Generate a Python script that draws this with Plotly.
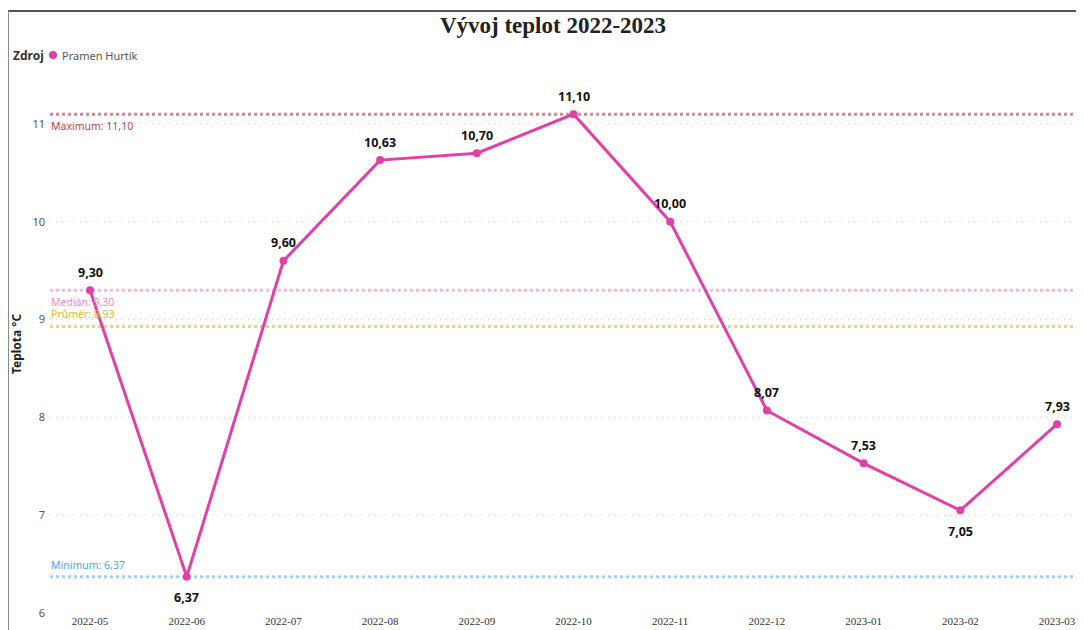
import plotly.graph_objects as go

months = ["2022-05", "2022-06", "2022-07", "2022-08", "2022-09", "2022-10",
          "2022-11", "2022-12", "2023-01", "2023-02", "2023-03"]
temps = [9.30, 6.37, 9.60, 10.63, 10.70, 11.10, 10.00, 8.07, 7.53, 7.05, 7.93]
label_below = [False, True, False, False, False, False, False, False, False, True, False]
series_name = "Pramen Hurtík"
legend_title = "Zdroj"

ref_names = ["Maximum", "Medián", "Průměr", "Minimum"]
ref_values = [11.10, 9.30, 8.93, 6.37]
ref_line_colors = ["#d9868c", "#f6b8dc", "#edd27a", "#9fd0fb"]
ref_text_colors = ["#b8434a", "#f08cc8", "#e0b830", "#4aa3f0"]
ref_text_side = ["below", "below", "above", "above"]

def cz(v):
    return f"{v:.2f}".replace(".", ",")

LINE = "#e040a8"
SANS = "Noto Sans, Open Sans, sans-serif"

# page body has an 8px margin; figure is sized to fill the rest of the window
W, H = 1076, 622
ML, MR, MT, MB = 42, 0, 67, 17
PW, PH = W - ML - MR, H - MT - MB

def px(xp):  # page pixel x -> paper x
    return (xp - 8 - ML) / PW

def py(yp):  # page pixel y -> paper y
    return (H - MB - (yp - 8)) / PH

fig = go.Figure()
fig.add_trace(go.Scatter(
    x=months, y=temps, mode="lines+markers", name=series_name,
    line=dict(color=LINE, width=3), marker=dict(color=LINE, size=8),
    showlegend=False, cliponaxis=False, hoverinfo="x+y"))

# data labels
for m, v, below in zip(months, temps, label_below):
    fig.add_annotation(x=m, y=v, xref="x", yref="y", text=f"<b>{cz(v)}</b>", showarrow=False,
                       yanchor="middle", yshift=-21 if below else 18,
                       font=dict(family=SANS, size=12.5, color="#111111"))

for n, v, lc, tc, side in zip(ref_names, ref_values, ref_line_colors, ref_text_colors, ref_text_side):
    fig.add_shape(type="line", xref="paper", yref="y", x0=0, x1=1, y0=v, y1=v,
                  line=dict(color=lc, width=3, dash="dot"), layer="below")
    fig.add_annotation(xref="paper", yref="y", x=-0.001, y=v, xanchor="left",
                       yanchor="top" if side == "below" else "bottom",
                       yshift=-3 if side == "below" else 3,
                       text=f"{n}: {cz(v)}", showarrow=False,
                       font=dict(family=SANS, size=10.5, color=tc))

# legend drawn as annotations + marker
fig.add_annotation(xref="paper", yref="paper", x=px(11), y=py(55), xanchor="left", yanchor="middle",
                   text=f"<b>{legend_title}</b>", showarrow=False,
                   font=dict(family=SANS, size=12, color="#333333"))
fig.add_shape(type="circle", xref="paper", yref="paper",
              x0=px(49), x1=px(57), y0=py(51), y1=py(59),
              fillcolor=LINE, line=dict(color=LINE, width=0))
fig.add_annotation(xref="paper", yref="paper", x=px(60), y=py(55), xanchor="left", yanchor="middle",
                   text=series_name, showarrow=False,
                   font=dict(family=SANS, size=11, color="#555555"))

# frame lines (top and left border)
fig.add_shape(type="line", xref="paper", yref="paper", x0=px(8), x1=px(1090), y0=py(11), y1=py(11),
              line=dict(color="#555555", width=2))
fig.add_shape(type="line", xref="paper", yref="paper", x0=px(8), x1=px(8), y0=py(11), y1=py(640),
              line=dict(color="#8a8a8a", width=2))

fig.update_layout(
    width=W, height=H,
    margin=dict(l=ML, r=MR, t=MT, b=MB),
    paper_bgcolor="white", plot_bgcolor="white",
    showlegend=False,
    title=dict(text="<b>Vývoj teplot 2022-2023</b>", x=(553 - 8) / W, xanchor="center",
               y=1 - (25 - 8) / H, yanchor="middle",
               font=dict(family="Liberation Serif, Times New Roman, serif", size=23, color="#222222")),
    xaxis=dict(type="category", range=[-0.414, 10.279], showgrid=False, zeroline=False,
               showline=False, ticks="", ticklabelstandoff=0,
               tickfont=dict(family="Liberation Serif, Times New Roman, serif", size=11, color="#333333")),
    yaxis=dict(range=[6, 11.5], dtick=1, showgrid=True, gridcolor="#cfcfcf", griddash="1px,5px",
               gridwidth=1, zeroline=False, showline=False, ticks="", ticklabelstandoff=4,
               tickfont=dict(family=SANS, size=11, color="#555555"),
               title=dict(text="<b>Teplota °C</b>", font=dict(family=SANS, size=12, color="#222222"),
                          standoff=10)),
)

fig.write_html("out.html")
